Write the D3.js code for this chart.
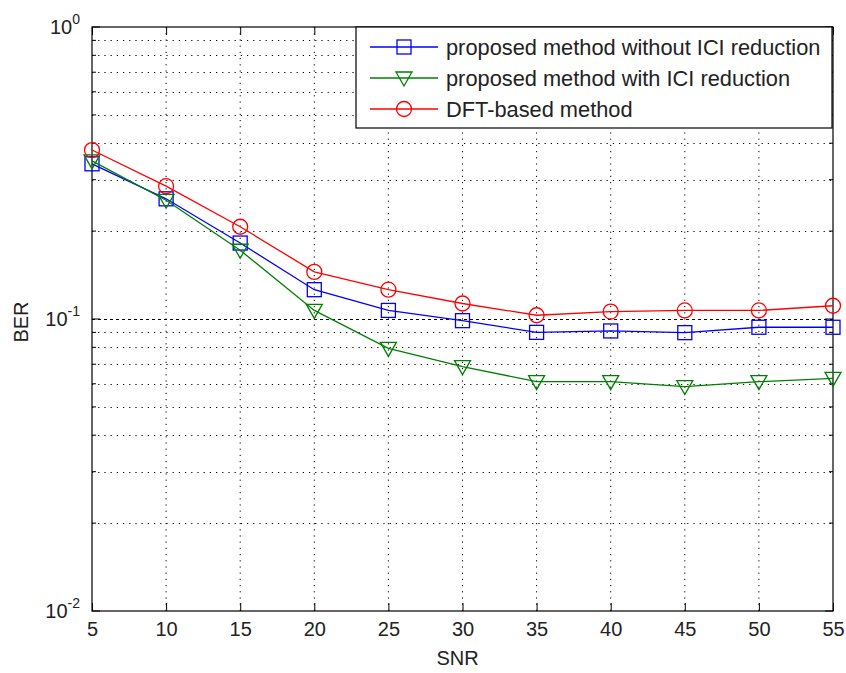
<!DOCTYPE html>
<html>
<head>
<meta charset="utf-8">
<script src="https://cdn.jsdelivr.net/npm/d3@7"></script>
<style>
  body { margin: 0; background: #fff; }
  text { font-family: "Liberation Sans", Arial, sans-serif; fill: #222; }
</style>
</head>
<body>
<div id="chart"></div>
<script>
var svgWidth = 846;
var svgHeight = 673;

var margin = { top: 27, right: 13, bottom: 62, left: 92 };
var width = svgWidth - margin.left - margin.right;
var height = svgHeight - margin.top - margin.bottom;

// data
var snr = [5, 10, 15, 20, 25, 30, 35, 40, 45, 50, 55];
var berNoICI = [0.340, 0.258, 0.182, 0.126, 0.107, 0.0987, 0.090, 0.091, 0.0898, 0.0937, 0.0937];
var berICI = [0.348, 0.255, 0.172, 0.107, 0.0793, 0.0687, 0.061, 0.061, 0.0587, 0.061, 0.0626];
var berDFT = [0.379, 0.285, 0.207, 0.145, 0.126, 0.113, 0.103, 0.106, 0.107, 0.107, 0.111];
var seriesNames = ["proposed method without ICI reduction", "proposed method with ICI reduction", "DFT-based method"];
var yMajor = [0.01, 0.1, 1];
var yExp = ["-2", "-1", "0"];

var series = [
  { name: seriesNames[0], values: berNoICI, color: "#0000ff", marker: "square" },
  { name: seriesNames[1], values: berICI, color: "#008000", marker: "tri" },
  { name: seriesNames[2], values: berDFT, color: "#ff0000", marker: "circle" }
];

var svg = d3.select("#chart").append("svg")
  .attr("width", svgWidth)
  .attr("height", svgHeight);

var g = svg.append("g")
  .attr("transform", `translate(${margin.left}, ${margin.top})`);

var x = d3.scaleLinear().domain([5, 55]).range([0, width]);
var y = d3.scaleLog().domain([0.01, 1]).range([height, 0]);

// minor values
var yMinor = [];
[0.01, 0.1].forEach(function(d) {
  for (var k = 2; k <= 9; k++) yMinor.push(d * k);
});

// grid
g.selectAll(".vgrid").data(snr.slice(1, -1)).enter().append("line")
  .attr("x1", d => x(d)).attr("x2", d => x(d))
  .attr("y1", 0).attr("y2", height)
  .attr("stroke", "#000").attr("stroke-width", 1)
  .attr("stroke-dasharray", "1.2,5");

g.selectAll(".hgrid").data(yMinor).enter().append("line")
  .attr("x1", 0).attr("x2", width)
  .attr("y1", d => Math.round(y(d)) + 0.5).attr("y2", d => Math.round(y(d)) + 0.5)
  .attr("stroke", "#000").attr("stroke-width", 1)
  .attr("stroke-dasharray", "1.2,5");

g.append("line")
  .attr("x1", 0).attr("x2", width)
  .attr("y1", Math.round(y(0.1)) + 0.5).attr("y2", Math.round(y(0.1)) + 0.5)
  .attr("stroke", "#000").attr("stroke-width", 1)
  .attr("stroke-dasharray", "3,3");

// x axis (ticks inside)
var xAxis = g.append("g")
  .attr("transform", `translate(0, ${height})`)
  .call(d3.axisBottom(x).tickValues(snr).tickSizeInner(-8).tickSizeOuter(0).tickPadding(11));
xAxis.selectAll("text").style("font-size", "20px").attr("fill", "#222");
xAxis.select(".domain").remove();

g.append("g")
  .call(d3.axisTop(x).tickValues(snr).tickSizeInner(-8).tickSizeOuter(0).tickFormat(""))
  .select(".domain").remove();

// y ticks both sides
function yTicks(sel, side) {
  var sgn = side === "left" ? 1 : -1;
  var x0 = side === "left" ? 0 : width;
  sel.selectAll(".maj").data(yMajor).enter().append("line")
    .attr("x1", x0).attr("x2", x0 + sgn * 8)
    .attr("y1", d => y(d)).attr("y2", d => y(d))
    .attr("stroke", "#000");
  sel.selectAll(".min").data(yMinor).enter().append("line")
    .attr("x1", x0).attr("x2", x0 + sgn * 4)
    .attr("y1", d => y(d)).attr("y2", d => y(d))
    .attr("stroke", "#000");
}
yTicks(g.append("g"), "left");
yTicks(g.append("g"), "right");

// y labels 10^n
var yLab = g.selectAll(".ylab").data(yMajor).enter().append("text")
  .attr("x", -12)
  .attr("y", d => y(d) + 7)
  .attr("text-anchor", "end")
  .style("font-size", "20px");
yLab.append("tspan").text("10");
yLab.append("tspan")
  .attr("dy", -10)
  .style("font-size", "14px")
  .text((d, i) => yExp[i]);

// box
g.append("rect")
  .attr("x", 0).attr("y", 0)
  .attr("width", width).attr("height", height)
  .attr("fill", "none").attr("stroke", "#000").attr("stroke-width", 1.2);

// lines
var line = d3.line()
  .x((d, i) => x(snr[i]))
  .y(d => y(d));

function drawMarker(sel, type, color) {
  if (type === "square") {
    sel.append("rect").attr("x", -7).attr("y", -7).attr("width", 14).attr("height", 14)
      .attr("fill", "none").attr("stroke", color).attr("stroke-width", 1.3);
  } else if (type === "tri") {
    sel.append("path").attr("d", "M-8,-6L8,-6L0,8Z")
      .attr("fill", "none").attr("stroke", color).attr("stroke-width", 1.3);
  } else {
    sel.append("circle").attr("r", 7.5)
      .attr("fill", "none").attr("stroke", color).attr("stroke-width", 1.3);
  }
}

series.forEach(function(s) {
  g.append("path")
    .datum(s.values)
    .attr("d", line)
    .attr("fill", "none")
    .attr("stroke", s.color)
    .attr("stroke-width", 1.3);
  g.selectAll(".m-" + s.marker).data(s.values).enter().append("g")
    .attr("transform", (d, i) => `translate(${x(snr[i])}, ${y(d)})`)
    .each(function() { drawMarker(d3.select(this), s.marker, s.color); });
});

// legend
var legX = 356 - margin.left, legY = 0, legW = 832 - 356, legH = 128 - 27;
var legend = g.append("g");
legend.append("rect")
  .attr("x", legX).attr("y", legY).attr("width", legW).attr("height", legH)
  .attr("fill", "#fff").attr("stroke", "#000").attr("stroke-width", 1.2);
var rowY = [47, 78, 109];
series.forEach(function(s, i) {
  var ry = rowY[i] - margin.top;
  legend.append("line")
    .attr("x1", 370 - margin.left).attr("x2", 438 - margin.left)
    .attr("y1", ry).attr("y2", ry)
    .attr("stroke", s.color).attr("stroke-width", 1.3);
  drawMarker(legend.append("g").attr("transform", `translate(${404 - margin.left}, ${ry})`), s.marker, s.color);
  legend.append("text")
    .attr("x", 446 - margin.left)
    .attr("y", ry + 7.5)
    .style("font-size", "21.8px")
    .text(s.name);
});

// axis titles
svg.append("text")
  .attr("x", margin.left + width / 2 - 5)
  .attr("y", 665)
  .attr("text-anchor", "middle")
  .style("font-size", "20px")
  .text("SNR");

svg.append("text")
  .attr("transform", `translate(28, 322) rotate(-90)`)
  .attr("text-anchor", "middle")
  .style("font-size", "20px")
  .text("BER");
</script>
</body>
</html>
